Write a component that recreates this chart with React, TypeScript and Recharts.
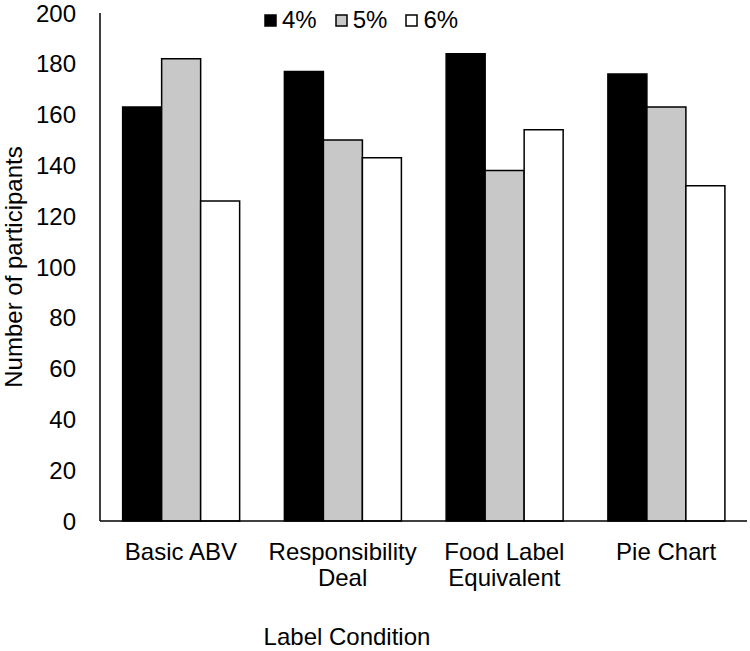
import React from "react";
import { BarChart, Bar, XAxis, YAxis, Legend } from "recharts";

const categories = ["Basic ABV", "Responsibility\nDeal", "Food Label\nEquivalent", "Pie Chart"];
const series4 = [163, 177, 184, 176];
const series5 = [182, 150, 138, 163];
const series6 = [126, 143, 154, 132];
const seriesNames = ["4%", "5%", "6%"];
const yTicks = [0, 20, 40, 60, 80, 100, 120, 140, 160, 180, 200];
const xTitle = "Label Condition";
const yTitle = "Number of participants";

const data = categories.map((c, i) => ({
  name: c,
  s4: series4[i],
  s5: series5[i],
  s6: series6[i],
}));

const FONT = "'Liberation Sans', Arial, sans-serif";
const FS = 24;

const CategoryTick = (props: any) => {
  const { x, y, payload } = props;
  const lines = String(payload.value).split("\n");
  return (
    <text x={x} y={y} textAnchor="middle" fill="#000" style={{ fontSize: FS, fontFamily: FONT }}>
      {lines.map((l, i) => (
        <tspan key={i} x={x} dy={i === 0 ? "0.71em" : 26}>
          {l}
        </tspan>
      ))}
    </text>
  );
};

const renderLegend = (props: any) => {
  const { payload } = props;
  return (
    <div style={{ display: "flex", fontSize: FS, fontFamily: FONT, color: "#000", lineHeight: "26px" }}>
      {(payload || []).map((e: any, i: number) => (
        <div key={i} style={{ display: "flex", alignItems: "center", marginRight: 18 }}>
          <svg width={13} height={13} style={{ marginRight: 5 }}>
            <rect x={1} y={1} width={11} height={11} fill={e.color} stroke="#000" strokeWidth={1.5} />
          </svg>
          <span>{e.value}</span>
        </div>
      ))}
    </div>
  );
};

function XTitle(props: any) {
  const vb = props.viewBox || { x: 0, y: 0, width: 0, height: 0 };
  return (
    <text
      x={vb.x + 247}
      y={vb.y + 124}
      textAnchor="middle"
      fill="#000"
      style={{ fontSize: FS, fontFamily: FONT }}
    >
      {xTitle}
    </text>
  );
}

export default function App() {
  return (
    <div style={{ position: "absolute", left: 0, top: 0, background: "#fff" }}>
      <BarChart
        width={750}
        height={651}
        data={data}
        margin={{ top: 13, right: 3, left: 0, bottom: 0 }}
        barCategoryGap="14%"
        barGap={0}
      >
        <XAxis
          dataKey="name"
          height={130}
          tickLine={false}
          tickSize={0}
          tickMargin={22}
          interval={0}
          axisLine={{ stroke: "#000", strokeWidth: 1.5 }}
          tick={<CategoryTick />}
          label={<XTitle />}
        />
        <YAxis
          width={100}
          domain={[0, 200]}
          ticks={yTicks}
          tickLine={false}
          tickSize={0}
          tickMargin={24}
          axisLine={{ stroke: "#000", strokeWidth: 1.5 }}
          tick={{ fill: "#000", fontSize: FS, fontFamily: FONT }}
          label={{
            value: yTitle,
            angle: -90,
            position: "insideLeft",
            offset: 13,
            style: { textAnchor: "middle", fontSize: FS, fontFamily: FONT, fill: "#000" },
          }}
        />
        <Legend
          verticalAlign="middle"
          align="center"
          layout="horizontal"
          content={renderLegend}
          wrapperStyle={{ top: 7, left: 264, width: "auto" }}
        />
        <Bar dataKey="s4" name={seriesNames[0]} fill="#000000" stroke="#000" strokeWidth={1.5} isAnimationActive={false} />
        <Bar dataKey="s5" name={seriesNames[1]} fill="#c8c8c8" stroke="#000" strokeWidth={1.5} isAnimationActive={false} />
        <Bar dataKey="s6" name={seriesNames[2]} fill="#ffffff" stroke="#000" strokeWidth={1.5} isAnimationActive={false} />
      </BarChart>
    </div>
  );
}
